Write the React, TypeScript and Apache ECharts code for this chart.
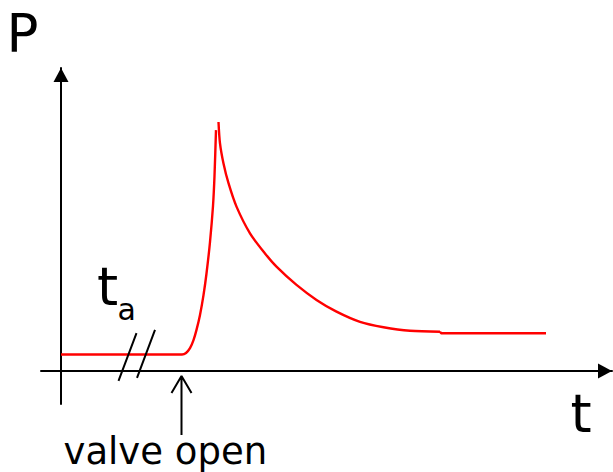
import React, { useEffect, useRef } from "react";
import * as echarts from "echarts";

// Pressure trace P(t), arbitrary units: steady level, break in time, valve opens,
// sharp pressure spike, exponential-like decay to a new plateau.
const baseT = [0, 24.2];
const baseP = [5.5, 5.5];

const riseT = [25.0, 25.8, 26.5, 27.1, 27.8, 28.5, 29.1, 29.8, 30.4, 30.7, 31.0];
const riseP = [6.0, 7.6, 10.3, 13.7, 18.7, 25.3, 32.5, 43.0, 55.0, 65.0, 80.3];

const decayT = [31.5, 31.8, 32.5, 33.5, 35.1, 37.8, 40.8, 43.1, 47.1, 51.1, 55.1, 59.8, 64.5, 69.8, 75.8];
const decayP = [83.0, 75.9, 69.2, 62.6, 54.8, 45.9, 39.2, 34.8, 28.7, 23.7, 19.8, 16.4, 14.6, 13.4, 13.1];

const tailT = [75.8, 76.0, 97.0];
const tailP = [13.1, 12.6, 12.6];

// Axis-break slashes on the time axis
const breakSlashT = [[11.5, 15.1], [15.2, 18.8]];
const breakSlashP = [[-3.3, 12.6], [-2.3, 13.7]];

// "valve open" marker arrow at the opening time
const valveTime = 24.1;
const valveArrowTipP = -1.7;
const valveArrowTailP = -21.3;
const valveHeadHalfWidth = 2.0;
const valveHeadP = -7.3;

const zip = (t: number[], p: number[]) => t.map((v, i) => [v, p[i]]);
const GAP = [null, null];

export default function App() {
  const ref = useRef<HTMLDivElement>(null);

  useEffect(() => {
    if (!ref.current) return;
    const chart = echarts.init(ref.current, undefined, { renderer: "svg" });

    const rise = [...zip(baseT, baseP), ...zip(riseT, riseP)];
    const decay = zip(decayT, decayP);

    const slashes: any[] = [];
    breakSlashT.forEach((ts, i) => {
      if (i > 0) slashes.push(GAP);
      slashes.push(...zip(ts, breakSlashP[i]));
    });

    const valveArrow = [
      [valveTime - valveHeadHalfWidth, valveHeadP],
      [valveTime, valveArrowTipP],
      [valveTime + valveHeadHalfWidth, valveHeadP],
      [valveTime, null],
      [valveTime, valveArrowTipP],
      [valveTime, valveArrowTailP],
    ];

    const font = '"DejaVu Sans", Verdana, sans-serif';
    const axisLine = {
      show: true,
      onZero: true,
      symbol: ["none", "triangle"],
      symbolSize: [15, 14],
      symbolOffset: [0, -7],
      lineStyle: { color: "#000", width: 2 },
    };
    const red = { color: "#ff0000", width: 2.4 };

    chart.setOption({
      animation: false,
      backgroundColor: "#fff",
      grid: { left: 41, right: 1, top: 68, bottom: 68 },
      xAxis: {
        type: "value",
        min: -4,
        max: 110.2,
        axisLine,
        axisTick: { show: false },
        axisLabel: { show: false },
        splitLine: { show: false },
      },
      yAxis: {
        type: "value",
        min: -11,
        max: 101,
        axisLine,
        axisTick: { show: false },
        axisLabel: { show: false },
        splitLine: { show: false },
      },
      series: [
        {
          type: "line",
          data: rise,
          showSymbol: false,
          smooth: 0.25,
          lineStyle: red,
          z: 3,
        },
        {
          type: "line",
          data: decay,
          showSymbol: false,
          smooth: 0.3,
          lineStyle: red,
          z: 3,
        },
        {
          type: "line",
          data: zip(tailT, tailP),
          showSymbol: false,
          lineStyle: red,
          z: 3,
        },
        {
          type: "line",
          data: slashes,
          showSymbol: false,
          connectNulls: false,
          clip: false,
          lineStyle: { color: "#000", width: 2 },
          z: 4,
        },
        {
          type: "line",
          data: valveArrow,
          showSymbol: false,
          connectNulls: false,
          clip: false,
          lineStyle: { color: "#000", width: 2 },
          z: 4,
        },
      ],
      graphic: [
        {
          type: "text",
          style: { text: "P", x: 6.6, y: 33, font: `53px ${font}`, fill: "#000", verticalAlign: "middle" },
        },
        {
          type: "text",
          style: { text: "t", x: 570.6, y: 413.5, font: `54px ${font}`, fill: "#000", verticalAlign: "middle" },
        },
        {
          type: "text",
          style: { text: "t", x: 96.9, y: 286.5, font: `54px ${font}`, fill: "#000", verticalAlign: "middle" },
        },
        {
          type: "text",
          style: { text: "a", x: 117.6, y: 309, font: `30px ${font}`, fill: "#000", verticalAlign: "middle" },
        },
        {
          type: "text",
          style: { text: "valve open", x: 63.5, y: 451.5, font: `37px ${font}`, fill: "#000", verticalAlign: "middle" },
        },
      ],
    });

    return () => chart.dispose();
  }, []);

  return (
    <div
      ref={ref}
      style={{ position: "fixed", left: 0, top: 0, width: 613, height: 472 }}
    />
  );
}
